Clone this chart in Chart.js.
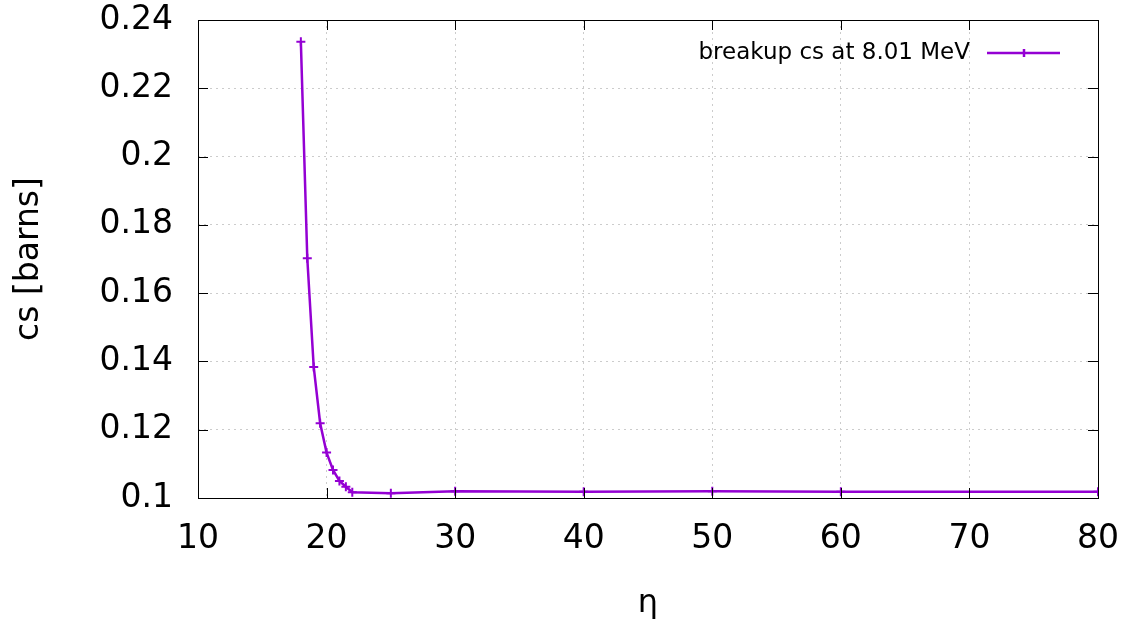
<!DOCTYPE html>
<html lang="en">
<head>
  <meta charset="UTF-8">
  <title>Breakup cross section vs eta</title>
  <script src="https://cdn.jsdelivr.net/npm/chart.js"></script>
  <style>
    html, body { margin: 0; padding: 0; background: #fff; }
    .chart-box { width: 1131px; height: 630px; }
  </style>
</head>
<body>
  <div class="chart-box">
    <canvas id="csChart"></canvas>
  </div>

  <script>
    // Data
    const etaValues = [18, 18.5, 19, 19.5, 20, 20.5, 21, 21.5, 22, 25, 30, 40, 50, 60, 80];
    const csValues = [0.2336, 0.1702, 0.1384, 0.1219, 0.1133, 0.1082, 0.1050, 0.1033, 0.1017,
                      0.1014, 0.1020, 0.1018, 0.1020, 0.1018, 0.1018];
    const xTicks = [10, 20, 30, 40, 50, 60, 70, 80];
    const yTicks = [0.1, 0.12, 0.14, 0.16, 0.18, 0.2, 0.22, 0.24];
    const seriesLabel = 'breakup cs at 8.01 MeV';

    const lineColor = '#9400d3';
    const font = 'DejaVu Sans';

    // gnuplot-style frame, inward ticks and a key with the sample on the right
    const framePlugin = {
      id: 'frame',
      afterDraw(chart) {
        const { ctx, chartArea: a, scales } = chart;
        ctx.save();
        ctx.strokeStyle = '#000';
        ctx.lineWidth = 1;
        ctx.strokeRect(a.left + 0.5, a.top + 0.5, a.right - a.left, a.bottom - a.top);
        ctx.beginPath();
        xTicks.forEach(v => {
          const x = Math.round(scales.x.getPixelForValue(v)) + 0.5;
          ctx.moveTo(x, a.bottom); ctx.lineTo(x, a.bottom - 10);
          ctx.moveTo(x, a.top); ctx.lineTo(x, a.top + 10);
        });
        yTicks.forEach(v => {
          const y = Math.round(scales.y.getPixelForValue(v)) + 0.5;
          ctx.moveTo(a.left, y); ctx.lineTo(a.left + 10, y);
          ctx.moveTo(a.right, y); ctx.lineTo(a.right - 10, y);
        });
        ctx.stroke();

        // key
        const keyY = a.top + 33;
        ctx.font = '23px "' + font + '"';
        ctx.fillStyle = '#000';
        ctx.textAlign = 'right';
        ctx.textBaseline = 'middle';
        ctx.fillText(seriesLabel, a.right - 128, keyY);
        ctx.strokeStyle = lineColor;
        ctx.lineWidth = 2.5;
        ctx.beginPath();
        ctx.moveTo(a.right - 111, keyY); ctx.lineTo(a.right - 38, keyY);
        const mx = a.right - 74;
        ctx.moveTo(mx - 4, keyY); ctx.lineTo(mx + 4, keyY);
        ctx.moveTo(mx, keyY - 4); ctx.lineTo(mx, keyY + 4);
        ctx.stroke();
        ctx.restore();
      }
    };

    const ctx = document.getElementById('csChart').getContext('2d');
    const csChart = new Chart(ctx, {
      type: 'line',
      data: {
        datasets: [{
          label: seriesLabel,
          data: etaValues.map((x, i) => ({ x: x, y: csValues[i] })),
          borderColor: lineColor,
          backgroundColor: lineColor,
          borderWidth: 2.5,
          pointStyle: 'cross',
          pointRadius: 4.5,
          pointBorderWidth: 2,
          pointBorderColor: lineColor,
          tension: 0
        }]
      },
      options: {
        responsive: true,
        maintainAspectRatio: false,
        animation: false,
        layout: { padding: { left: 0, right: 33, top: 20, bottom: 0 } },
        plugins: {
          legend: { display: false },
          tooltip: { enabled: false }
        },
        scales: {
          x: {
            type: 'linear',
            min: 10,
            max: 80,
            afterFit(scale) {
              scale.height = 132;
              scale.paddingLeft = 0;
              scale.paddingRight = 0;
            },
            afterBuildTicks(scale) { scale.ticks = xTicks.map(v => ({ value: v })); },
            ticks: {
              color: '#000',
              font: { family: font, size: 33 },
              padding: 22,
              maxRotation: 0,
              callback: v => String(v)
            },
            grid: {
              color: '#cccccc',
              lineWidth: 1,
              drawTicks: false
            },
            border: { display: false, dash: [2, 4] },
            title: {
              display: true,
              text: 'η',
              color: '#000',
              font: { family: font, size: 32 },
              padding: { top: 0, bottom: 7 }
            }
          },
          y: {
            type: 'linear',
            min: 0.1,
            max: 0.24,
            afterFit(scale) {
              scale.width = 198;
              scale.paddingTop = 0;
              scale.paddingBottom = 0;
            },
            afterBuildTicks(scale) { scale.ticks = yTicks.map(v => ({ value: v })); },
            ticks: {
              color: '#000',
              font: { family: font, size: 33 },
              padding: 25,
              callback: v => String(Number(v.toFixed(2)))
            },
            grid: {
              color: '#cccccc',
              lineWidth: 1,
              drawTicks: false
            },
            border: { display: false, dash: [2, 4] },
            title: {
              display: true,
              text: 'cs [barns]',
              color: '#000',
              font: { family: font, size: 33 },
              padding: { top: 10, bottom: 0 }
            }
          }
        }
      },
      plugins: [framePlugin]
    });
  </script>
</body>
</html>
